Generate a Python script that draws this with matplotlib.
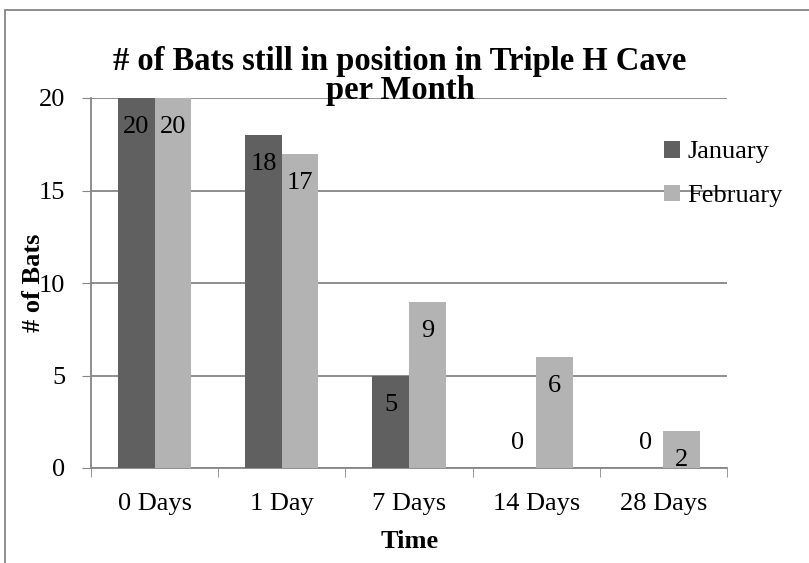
import numpy as np
import matplotlib.pyplot as plt
from matplotlib.patches import Rectangle

# data
categories = ['0 Days', '1 Day', '7 Days', '14 Days', '28 Days']
january = [20, 18, 5, 0, 0]
february = [20, 17, 9, 6, 2]

plt.rcParams['font.family'] = ['Liberation Serif', 'DejaVu Serif']
grey = '#868686'
fs = 19

fig = plt.figure(figsize=(8.09, 5.63), dpi=100)
ax = fig.add_axes([91/809, 1-468/563, (727-91)/809, (468-98)/563])

x = np.arange(len(categories))
w = 0.287
b1 = ax.bar(x - w/2, january, w, color='#606060', label='January', zorder=3)
b2 = ax.bar(x + w/2, february, w, color='#b3b3b3', label='February', zorder=3)

# data labels, inside end of each bar
for bars, vals in [(b1, january), (b2, february)]:
    for r, v in zip(bars, vals):
        cx = r.get_x() + r.get_width()/2
        off = -21 if v > 0 else 18
        ax.annotate(str(v), (cx, v), xytext=(0, off), textcoords='offset points',
                    ha='center', va='center', fontsize=fs, zorder=4)

ax.set_xlim(-0.5, 4.5)
ax.set_ylim(0, 20)
ax.set_yticks([0, 5, 10, 15, 20])
ax.set_xticks(x)
ax.set_xticklabels(categories)
ax.set_xticks(np.arange(-0.5, 5, 1), minor=True)
ax.tick_params(axis='x', which='major', length=0, labelsize=fs, pad=18)
ax.tick_params(axis='x', which='minor', length=6.5, color=grey, direction='out')
ax.tick_params(axis='y', length=6.5, color=grey, labelsize=fs, pad=12)
ax.yaxis.grid(True, color=grey, lw=1.3, zorder=0)
for s in ['top', 'right']:
    ax.spines[s].set_visible(False)
for s in ['left', 'bottom']:
    ax.spines[s].set_color(grey)
    ax.spines[s].set_linewidth(1.3)

ax.set_xlabel('Time', fontsize=fs, fontweight='bold')
ax.xaxis.set_label_coords(410/809, 1-541/563, transform=fig.transFigure)
ax.xaxis.label.set_va('center')
ax.set_ylabel('# of Bats', fontsize=fs, fontweight='bold')
ax.yaxis.set_label_coords(33/809, 1-283/563, transform=fig.transFigure)
ax.yaxis.label.set_va('center')

fig.text(400/809, 1-76/563, '# of Bats still in position in Triple H Cave\nper Month',
         ha='center', va='center', fontsize=23.5, fontweight='bold', linespacing=0.95)

ax.legend(loc='center left', bbox_to_anchor=(640/809, 1-174/563), bbox_transform=fig.transFigure,
          frameon=False, fontsize=fs, handlelength=0.6, handleheight=0.6, handletextpad=0.3,
          labelspacing=0.8)

# chart frame
fig.patches.append(Rectangle((5/809, -0.1), 1.2, 1-10/563+0.1, transform=fig.transFigure,
                             fill=False, edgecolor=grey, lw=1.3))

fig.savefig('out.png', dpi=100)
